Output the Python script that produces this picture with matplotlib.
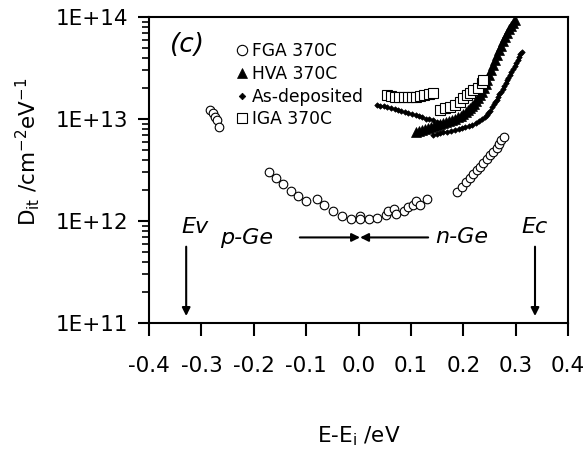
import numpy as np
import matplotlib
matplotlib.use('Agg')
import matplotlib.pyplot as plt
from matplotlib.ticker import LogLocator, FuncFormatter, MultipleLocator, NullFormatter

# FGA 370C (open circles)
fga_x = [-0.2835, -0.278, -0.274, -0.270, -0.266,
         -0.170, -0.158, -0.145, -0.129, -0.116, -0.100, -0.080, -0.065, -0.048, -0.032,
         -0.014, 0.003, 0.003, 0.020, 0.036, 0.052, 0.057, 0.068, 0.072, 0.087,
         0.095, 0.104, 0.110, 0.117, 0.131,
         0.188, 0.197, 0.205, 0.213, 0.219, 0.226, 0.232, 0.238, 0.245, 0.251,
         0.257, 0.264, 0.269, 0.273, 0.278]
fga_y = [1.22e13, 1.15e13, 1.05e13, 9.8e12, 8.3e12,
         3.04e12, 2.62e12, 2.29e12, 1.98e12, 1.77e12, 1.58e12, 1.63e12, 1.44e12, 1.25e12, 1.12e12,
         1.05e12, 1.12e12, 1.04e12, 1.05e12, 1.08e12, 1.14e12, 1.25e12, 1.30e12, 1.16e12, 1.25e12,
         1.38e12, 1.44e12, 1.58e12, 1.44e12, 1.63e12,
         1.94e12, 2.17e12, 2.43e12, 2.62e12, 2.89e12, 3.16e12, 3.40e12, 3.68e12, 4.03e12, 4.44e12,
         4.78e12, 5.16e12, 5.65e12, 6.22e12, 6.70e12]

# HVA 370C (filled triangles)
hva_x = [0.110, 0.116, 0.121, 0.127, 0.133, 0.138, 0.144, 0.150, 0.156, 0.161,
         0.167, 0.173, 0.179, 0.184, 0.190, 0.195, 0.200, 0.205, 0.209, 0.213,
         0.217, 0.221, 0.224, 0.228, 0.232, 0.236, 0.240, 0.243, 0.246, 0.250,
         0.253, 0.257, 0.261, 0.264, 0.268, 0.272, 0.276, 0.280, 0.284, 0.288,
         0.291, 0.295, 0.299]
hva_y = [7.5e12, 7.6e12, 7.8e12, 8.0e12, 8.2e12, 8.3e12, 8.5e12, 8.7e12, 8.9e12, 9.1e12,
         9.4e12, 9.5e12, 9.8e12, 1.01e13, 1.05e13, 1.08e13, 1.12e13, 1.17e13, 1.22e13, 1.28e13,
         1.34e13, 1.41e13, 1.50e13, 1.60e13, 1.72e13, 1.86e13, 2.01e13, 2.20e13, 2.41e13, 2.69e13,
         3.02e13, 3.39e13, 3.78e13, 4.24e13, 4.74e13, 5.25e13, 5.82e13, 6.38e13, 6.97e13, 7.55e13,
         8.17e13, 8.71e13, 9.33e13]

# As-deposited (small diamonds)
asd_x = [0.035, 0.042, 0.049, 0.055, 0.062, 0.069, 0.075, 0.082, 0.089, 0.095,
         0.102, 0.109, 0.116, 0.122, 0.129, 0.135, 0.142, 0.149, 0.156,
         0.142, 0.149, 0.156, 0.162, 0.169, 0.176, 0.184, 0.191, 0.198, 0.204,
         0.211, 0.217, 0.224, 0.230, 0.236, 0.241, 0.245, 0.248, 0.251,
         0.255, 0.258, 0.261, 0.264, 0.266, 0.269, 0.272, 0.275, 0.278, 0.281,
         0.284, 0.286, 0.289, 0.292, 0.295, 0.298, 0.301, 0.304, 0.306, 0.309, 0.312]
asd_y = [1.37e13, 1.35e13, 1.33e13, 1.30e13, 1.28e13, 1.25e13, 1.22e13, 1.20e13, 1.17e13, 1.15e13,
         1.12e13, 1.10e13, 1.07e13, 1.04e13, 1.01e13, 9.9e12, 9.7e12, 9.4e12, 9.2e12,
         7.0e12, 7.15e12, 7.3e12, 7.4e12, 7.5e12, 7.65e12, 7.8e12, 8.0e12, 8.2e12, 8.35e12,
         8.5e12, 8.8e12, 9.1e12, 9.5e12, 1.0e13, 1.05e13, 1.09e13, 1.14e13, 1.20e13,
         1.31e13, 1.39e13, 1.47e13, 1.55e13, 1.64e13, 1.74e13, 1.84e13, 1.97e13, 2.11e13, 2.25e13,
         2.41e13, 2.55e13, 2.70e13, 2.88e13, 3.09e13, 3.30e13, 3.54e13, 3.80e13, 4.06e13, 4.30e13, 4.57e13]

# IGA 370C (open squares)
iga_x = [0.054, 0.062, 0.070, 0.078, 0.086, 0.094, 0.102, 0.110, 0.118, 0.126, 0.134, 0.142,
         0.156, 0.165, 0.175, 0.184, 0.194, 0.200, 0.207, 0.213, 0.219, 0.229, 0.235, 0.237]
iga_y = [1.70e13, 1.68e13, 1.66e13, 1.65e13, 1.64e13, 1.64e13, 1.65e13, 1.66e13, 1.68e13, 1.70e13, 1.74e13, 1.79e13,
         1.22e13, 1.27e13, 1.32e13, 1.37e13, 1.48e13, 1.60e13, 1.72e13, 1.79e13, 1.92e13, 2.00e13, 2.24e13, 2.41e13]

# band edges and arrow levels
ev_x, ec_x = -0.329, 0.337
edge_arrow_top, edge_arrow_bottom = 5.6e11, 1.17e11
mid_x, pge_start, nge_start, mid_level = 0.003, -0.112, 0.133, 6.9e11

fig = plt.figure(figsize=(5.85, 4.5), dpi=100)
ax = fig.add_axes([149 / 585, 1 - 323 / 450, 419 / 585, 306 / 450])

ax.plot(fga_x, fga_y, 'o', ms=6.2, mfc='white', mec='black', mew=0.8, ls='none', label='FGA 370C')
ax.plot(hva_x, hva_y, '^', ms=6.5, mfc='black', mec='black', mew=0.5, ls='none', label='HVA 370C')
ax.plot(asd_x, asd_y, 'D', ms=2.8, mfc='black', mec='black', mew=0.5, ls='none', label='As-deposited')
ax.plot(iga_x, iga_y, 's', ms=6.5, mfc='white', mec='black', mew=0.8, ls='none', label='IGA 370C')

ax.set_yscale('log')
ax.set_xlim(-0.4, 0.4)
ax.set_ylim(1e11, 1e14)

ax.xaxis.set_major_locator(MultipleLocator(0.1))
ax.xaxis.set_major_formatter(FuncFormatter(lambda v, p: '%.1f' % (round(v, 1) + 0.0)))
ax.yaxis.set_major_locator(LogLocator(base=10))
ax.yaxis.set_minor_locator(LogLocator(base=10, subs=range(2, 10)))
ax.yaxis.set_minor_formatter(NullFormatter())
ax.yaxis.set_major_formatter(FuncFormatter(lambda v, p: '1E+%d' % round(np.log10(v))))

ax.tick_params(axis='x', which='major', direction='out', length=9, width=1.5, pad=15, labelsize=15.5, top=False)
ax.tick_params(axis='y', which='major', direction='out', length=8, width=1.5, pad=7, labelsize=15.5, right=False)
ax.tick_params(axis='y', which='minor', direction='out', length=5, width=1.2, right=False)
for s in ax.spines.values():
    s.set_linewidth(1.5)

ax.set_xlabel(r'E-E$_\mathregular{i}$ /eV', fontsize=15.5)
ax.xaxis.set_label_coords(0.5, -0.33)
ax.set_ylabel(r'D$_\mathregular{it}$ /cm$^\mathregular{-2}$eV$^\mathregular{-1}$', fontsize=15.5)
ax.yaxis.set_label_coords(-0.255, 0.559)

arrow = dict(arrowstyle='-|>', color='black', lw=1.5, mutation_scale=12, shrinkA=0, shrinkB=0)
ax.annotate('', xy=(ev_x, edge_arrow_bottom), xytext=(ev_x, edge_arrow_top), arrowprops=arrow)
ax.annotate('', xy=(ec_x, edge_arrow_bottom), xytext=(ec_x, edge_arrow_top), arrowprops=arrow)
ax.annotate('', xy=(mid_x, mid_level), xytext=(pge_start, mid_level), arrowprops=arrow)
ax.annotate('', xy=(mid_x, mid_level), xytext=(nge_start, mid_level), arrowprops=arrow)

ax.text(ev_x + 0.017, 7.6e11, 'Ev', style='italic', fontsize=16, ha='center', va='baseline')
ax.text(ec_x, 7.6e11, 'Ec', style='italic', fontsize=16, ha='center', va='baseline')
ax.text(-0.213, 5.96e11, 'p-Ge', style='italic', fontsize=16, ha='center', va='baseline')
ax.text(0.197, 6.08e11, 'n-Ge', style='italic', fontsize=16, ha='center', va='baseline')
ax.text(-0.327, 5.3e13, '(c)', style='italic', fontsize=19, ha='center', va='center')

ax.legend(loc='upper left', bbox_to_anchor=(0.2076, 0.918), frameon=False, fontsize=12.3,
          handlelength=0.7, handletextpad=0.25, labelspacing=0.28, borderpad=0, borderaxespad=0,
          markerscale=1.2)

fig.savefig('out.png', dpi=100)
